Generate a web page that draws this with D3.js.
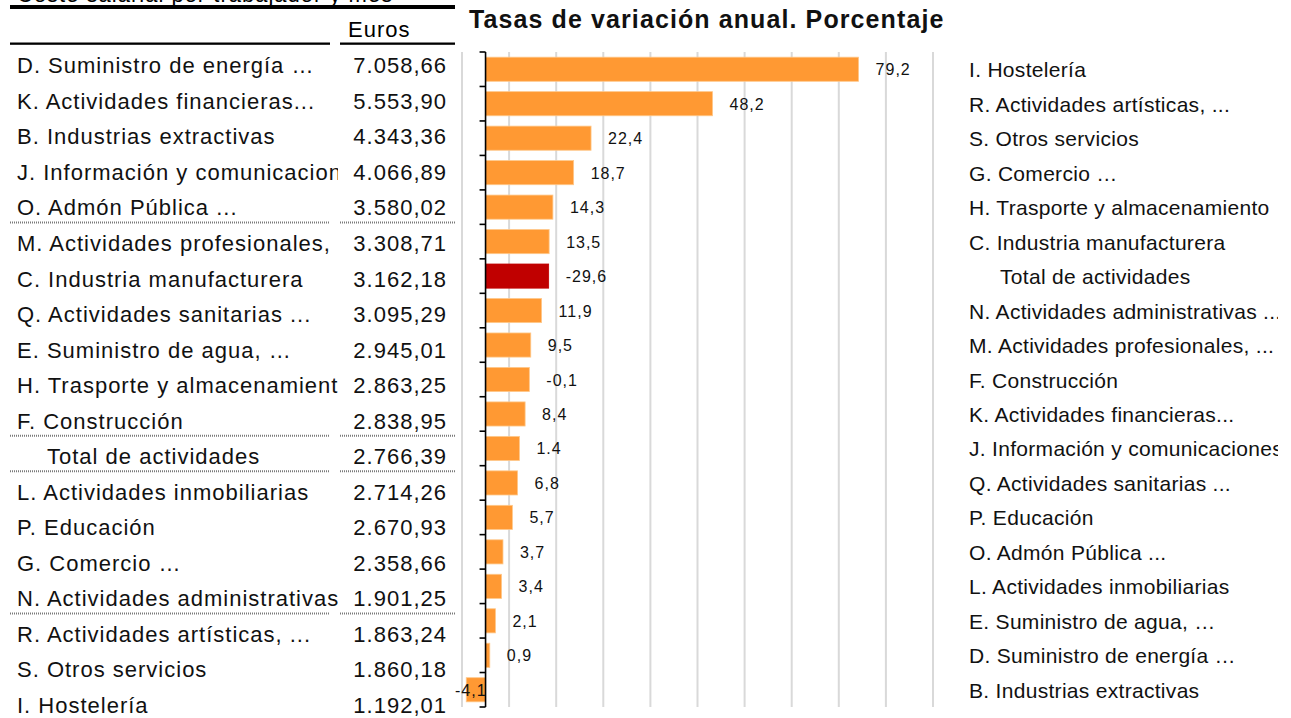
<!DOCTYPE html>
<html>
<head>
<meta charset="utf-8">
<script src="https://cdn.jsdelivr.net/npm/d3@7"></script>
<style>
  body { margin: 0; background: #fff; }
  svg { display: block; font-family: "Liberation Sans", Arial, sans-serif; }
</style>
</head>
<body>
<script>
// Coste salarial por sector + tasas de variacion anual

const tableSectors = [
    "D. Suministro de energía …",
    "K. Actividades financieras...",
    "B. Industrias extractivas",
    "J. Información y comunicaciones",
    "O. Admón Pública ...",
    "M. Actividades profesionales, ...",
    "C. Industria manufacturera",
    "Q. Actividades sanitarias ...",
    "E. Suministro de agua, …",
    "H. Trasporte y almacenamiento",
    "F. Construcción",
    "Total de actividades",
    "L. Actividades inmobiliarias",
    "P. Educación",
    "G. Comercio …",
    "N. Actividades administrativas ...",
    "R. Actividades artísticas, ...",
    "S. Otros servicios",
    "I. Hostelería"
];
const tableEuros = [7058.66, 5553.90, 4343.36, 4066.89, 3580.02, 3308.71, 3162.18, 3095.29,
    2945.01, 2863.25, 2838.95, 2766.39, 2714.26, 2670.93, 2358.66, 1901.25, 1863.24, 1860.18, 1192.01];
// rows followed by a dotted rule
const ruleAfter = [4, 10, 11, 15];

const chartSectors = [
    "I. Hostelería",
    "R. Actividades artísticas, ...",
    "S. Otros servicios",
    "G. Comercio …",
    "H. Trasporte y almacenamiento",
    "C. Industria manufacturera",
    "Total de actividades",
    "N. Actividades administrativas ...",
    "M. Actividades profesionales, ...",
    "F. Construcción",
    "K. Actividades financieras...",
    "J. Información y comunicaciones",
    "Q. Actividades sanitarias ...",
    "P. Educación",
    "O. Admón Pública ...",
    "L. Actividades inmobiliarias",
    "E. Suministro de agua, …",
    "D. Suministro de energía …",
    "B. Industrias extractivas"
];
// bar lengths as drawn, and the labels printed next to them
const barValues = [79.2, 48.2, 22.4, 18.7, 14.3, 13.5, 13.4, 11.9, 9.6, 9.3, 8.4, 7.2, 6.8, 5.7, 3.7, 3.4, 2.1, 0.9, -4.1];
const barLabels = ["79,2", "48,2", "22,4", "18,7", "14,3", "13,5", "-29,6", "11,9", "9,5", "-0,1",
    "8,4", "1.4", "6,8", "5,7", "3,7", "3,4", "2,1", "0,9", "-4,1"];
const highlight = 6;
const gridTicks = [-5, 5, 15, 25, 35, 45, 55, 65, 75, 85, 95];

const w = 1291;
const h = 718;

const es = d3.formatLocale({ decimal: ",", thousands: ".", grouping: [3], currency: ["", " €"] });
const fmt = es.format(",.2f");

const svg = d3.select("body").append("svg")
    .attr("width", w)
    .attr("height", h);

const defs = svg.append("defs");
defs.append("clipPath").attr("id", "clip-name")
    .append("rect").attr("x", 0).attr("y", 0).attr("width", 338).attr("height", h);
defs.append("clipPath").attr("id", "clip-right")
    .append("rect").attr("x", 940).attr("y", 0).attr("width", 338).attr("height", h);

// ---- table ----
const table = svg.append("g");

table.append("text")
    .attr("x", 17)
    .attr("y", 2)
    .style("font-size", "22px")
    .style("letter-spacing", "1px")
    .text("Coste salarial por trabajador y mes");

table.append("rect")
    .attr("x", 10).attr("y", 5).attr("width", 445).attr("height", 4)
    .attr("fill", "#000");

table.append("text")
    .attr("x", 348)
    .attr("y", 37)
    .style("font-size", "22px")
    .style("letter-spacing", "1px")
    .text("Euros");

table.append("rect").attr("x", 10).attr("y", 42.5).attr("width", 320).attr("height", 2.3).attr("fill", "#000");
table.append("rect").attr("x", 340).attr("y", 42.5).attr("width", 115).attr("height", 2.3).attr("fill", "#000");

const row = d3.scaleLinear().domain([0, 18]).range([73.3, 713]);

table.append("g")
    .attr("clip-path", "url(#clip-name)")
    .selectAll("text")
    .data(tableSectors)
    .join("text")
    .attr("x", d => d.startsWith("Total") ? 47 : 17)
    .attr("y", (d, i) => row(i))
    .style("font-size", "22px")
    .style("letter-spacing", "1px")
    .attr("fill", "#111")
    .text(d => d);

table.append("g")
    .selectAll("text")
    .data(tableEuros)
    .join("text")
    .attr("x", 447)
    .attr("y", (d, i) => row(i))
    .attr("text-anchor", "end")
    .style("font-size", "22px")
    .style("letter-spacing", "1px")
    .attr("fill", "#111")
    .text(d => fmt(d));

const rules = table.append("g")
    .attr("stroke", "#7a7a7a")
    .attr("stroke-width", 2)
    .attr("stroke-dasharray", "1,1");
ruleAfter.forEach(i => {
    rules.append("line").attr("x1", 10).attr("x2", 330).attr("y1", row(i) + 7).attr("y2", row(i) + 7);
    rules.append("line").attr("x1", 340).attr("x2", 455).attr("y1", row(i) + 7).attr("y2", row(i) + 7);
});

// ---- bar chart ----
const x_scale = d3.scaleLinear().domain([-5, 95]).range([462, 933]);
const y_scale = d3.scaleBand()
    .domain(d3.range(barValues.length))
    .range([52, 707])
    .paddingInner(0.3)
    .paddingOuter(0.15);

svg.append("text")
    .attr("x", 469)
    .attr("y", 28)
    .style("font-size", "25px")
    .style("font-weight", "bold")
    .style("letter-spacing", "1.1px")
    .attr("fill", "#111")
    .text("Tasas de variación anual. Porcentaje");

svg.append("g")
    .selectAll("line")
    .data(gridTicks)
    .join("line")
    .attr("x1", d => x_scale(d)).attr("x2", d => x_scale(d))
    .attr("y1", 52).attr("y2", 707)
    .attr("stroke", "#d9d9d9")
    .attr("stroke-width", 2);

svg.append("g")
    .selectAll("rect")
    .data(barValues)
    .join("rect")
    .attr("x", d => x_scale(Math.min(0, d)))
    .attr("y", (d, i) => y_scale(i))
    .attr("width", d => Math.abs(x_scale(d) - x_scale(0)))
    .attr("height", y_scale.bandwidth())
    .attr("fill", (d, i) => i === highlight ? "#c00000" : "#ff9933")
    .attr("stroke", (d, i) => i === highlight ? "#c00000" : "#ffc88a")
    .attr("stroke-width", 0.8);

// axis at zero, ticks on band boundaries
const axis = svg.append("g").attr("stroke", "#000").attr("stroke-width", 1.6);
axis.append("line")
    .attr("x1", x_scale(0)).attr("x2", x_scale(0))
    .attr("y1", 52).attr("y2", 707);
axis.selectAll(".tick")
    .data(d3.range(barValues.length + 1))
    .join("line")
    .attr("class", "tick")
    .attr("x1", x_scale(0) - 6).attr("x2", x_scale(0))
    .attr("y1", i => y_scale.range()[0] + i * y_scale.step())
    .attr("y2", i => y_scale.range()[0] + i * y_scale.step());

svg.append("g")
    .selectAll("text")
    .data(barValues)
    .join("text")
    .attr("x", d => d < 0 ? x_scale(0) + 1 : x_scale(d) + 17)
    .attr("y", (d, i) => y_scale(i) + y_scale.bandwidth() / 2 + 6)
    .attr("text-anchor", d => d < 0 ? "end" : "start")
    .style("font-size", "16px")
    .style("letter-spacing", "1px")
    .attr("fill", "#111")
    .text((d, i) => barLabels[i]);

svg.append("g")
    .attr("clip-path", "url(#clip-right)")
    .selectAll("text")
    .data(chartSectors)
    .join("text")
    .attr("x", d => d.startsWith("Total") ? 1000 : 969)
    .attr("y", (d, i) => y_scale(i) + y_scale.bandwidth() / 2 + 8)
    .style("font-size", "21px")
    .style("letter-spacing", "0.3px")
    .attr("fill", "#111")
    .text(d => d);
</script>
</body>
</html>
